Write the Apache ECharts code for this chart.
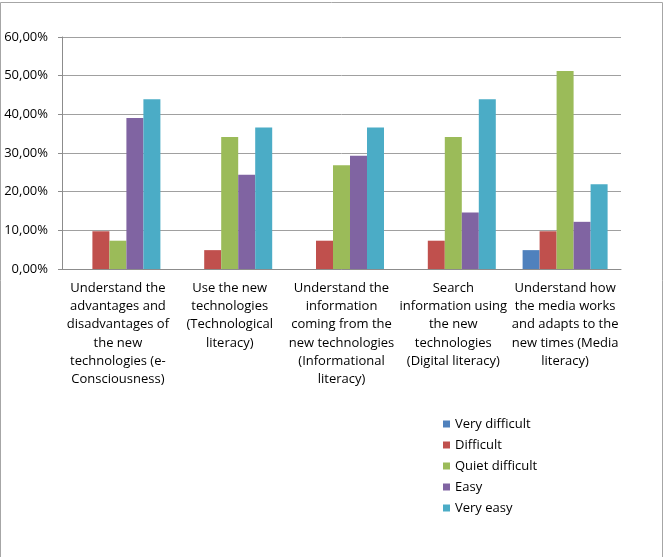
<!DOCTYPE html>
<html>
<head>
<meta charset="utf-8">
<script src="https://cdn.jsdelivr.net/npm/echarts@6/dist/echarts.min.js"></script>
<style>
  html, body { margin: 0; padding: 0; background: #fff; }
  #chart { width: 666px; height: 557px; }
</style>
</head>
<body>
<div id="chart"></div>
<script>
const categories = [
  "Understand the\nadvantages and\ndisadvantages of\nthe new\ntechnologies (e-\nConsciousness)",
  "Use the new\ntechnologies\n(Technological\nliteracy)",
  "Understand the\ninformation\ncoming from the\nnew technologies\n(Informational\nliteracy)",
  "Search\ninformation using\nthe new\ntechnologies\n(Digital literacy)",
  "Understand how\nthe media works\nand adapts to the\nnew times (Media\nliteracy)",
];
const veryDifficult = [0, 0, 0, 0, 4.88];
const difficult = [9.76, 4.88, 7.32, 7.32, 9.76];
const quietDifficult = [7.32, 34.15, 26.83, 34.15, 51.22];
const easy = [39.02, 24.39, 29.27, 14.63, 12.2];
const veryEasy = [43.9, 36.59, 36.59, 43.9, 21.95];
const yTicks = [0, 10, 20, 30, 40, 50, 60];

const seriesList = [
  { name: "Very difficult", data: veryDifficult, color: "#4F81BD" },
  { name: "Difficult", data: difficult, color: "#C0504D" },
  { name: "Quiet difficult", data: quietDifficult, color: "#9BBB59" },
  { name: "Easy", data: easy, color: "#8064A2" },
  { name: "Very easy", data: veryEasy, color: "#4BACC6" },
];

const font = "'Open Sans', 'Liberation Sans', sans-serif";
const myChart = echarts.init(document.getElementById("chart"));

myChart.setOption({
  animation: false,
  textStyle: { fontFamily: font },
  graphic: [
    {
      type: "rect",
      shape: { x: 0.5, y: 2.5, width: 662, height: 600 },
      style: { fill: "none", stroke: "#a6a6a6", lineWidth: 1 },
      silent: true,
    },
  ],
  legend: {
    orient: "vertical",
    left: 443,
    top: 417,
    padding: 0,
    icon: "rect",
    itemWidth: 7,
    itemHeight: 7,
    itemGap: 7,
    textStyle: { fontSize: 13, color: "#000", fontFamily: font, lineHeight: 14 },
    data: seriesList.map((s) => s.name),
  },
  grid: {
    left: 62,
    right: 45,
    top: 37,
    bottom: 288,
    containLabel: false,
  },
  xAxis: {
    type: "category",
    data: categories,
    axisLine: { lineStyle: { color: "#8c8c8c" } },
    axisTick: { length: 4, lineStyle: { color: "#8c8c8c" } },
    axisLabel: {
      interval: 0,
      margin: 10,
      fontSize: 13,
      lineHeight: 18.3,
      color: "#000",
      fontFamily: font,
    },
  },
  yAxis: {
    type: "value",
    min: yTicks[0],
    max: yTicks[yTicks.length - 1],
    interval: 10,
    axisLine: { show: true, lineStyle: { color: "#8c8c8c" } },
    axisTick: { show: true, length: 4, lineStyle: { color: "#8c8c8c" } },
    splitLine: { lineStyle: { color: "#a0a0a0" } },
    axisLabel: {
      margin: 14,
      fontSize: 13,
      color: "#000",
      fontFamily: font,
      formatter: (v) => v.toFixed(2).replace(".", ",") + "%",
    },
  },
  series: seriesList.map((s) => ({
    name: s.name,
    type: "bar",
    data: s.data,
    barWidth: 17,
    barGap: "0%",
    itemStyle: { color: s.color },
  })),
});
</script>
</body>
</html>
